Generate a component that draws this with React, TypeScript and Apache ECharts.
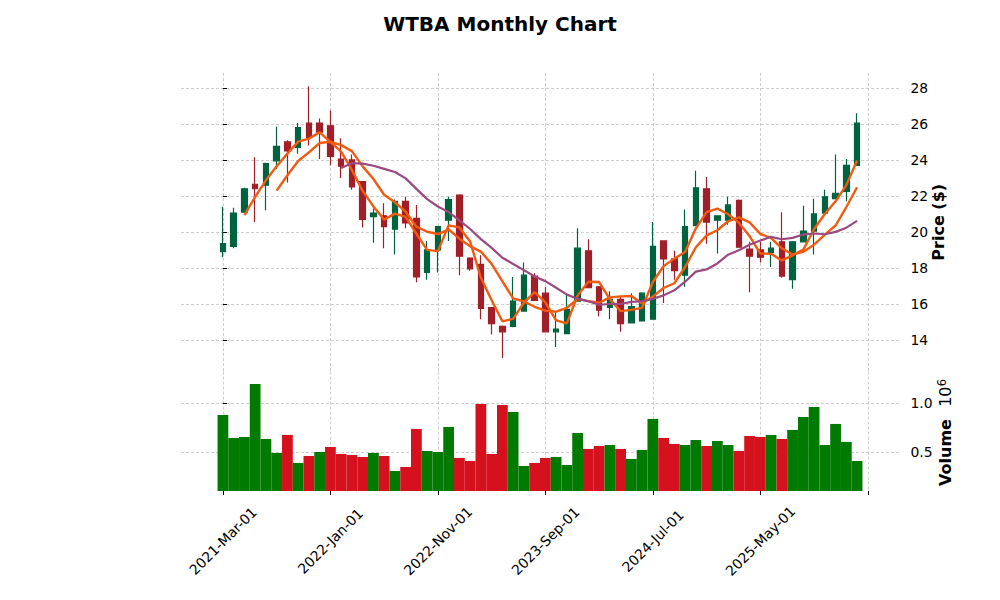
import React, { useEffect, useRef } from "react";
import * as echarts from "echarts";

// ---------- data ----------
const tickIdx = [0, 10, 20, 30, 40, 50, 60];
const tickLabels = ["2021-Mar-01", "2022-Jan-01", "2022-Nov-01", "2023-Sep-01", "2024-Jul-01", "2025-May-01"];
const priceTicks = [14, 16, 18, 20, 22, 24, 26, 28];
const volumeTicks = [500000, 1000000];
const maPeriods = [3, 6, 12];

const opens = [
  18.9, 19.2, 21.1, 22.65, 22.6, 23.95, 25.0, 24.7, 26.05, 26.05,
  25.9, 24.05, 24.0, 22.8, 20.85, 20.9, 20.15, 21.7, 20.75, 17.75,
  19.0, 20.65, 22.05, 18.55, 18.2, 15.8, 14.75, 14.75, 15.6, 17.55,
  16.6, 14.45, 14.35, 16.15, 18.95, 16.95, 15.8, 16.25, 14.95, 15.05,
  15.15, 19.5, 18.5, 17.6, 20.35, 22.4, 20.65, 20.65, 21.75, 19.05,
  19.0, 18.85, 19.45, 17.35, 19.45, 20.05, 21.05, 21.85, 22.25, 23.7,
];
const closes = [
  19.35, 21.05, 22.4, 22.4, 23.8, 24.75, 24.5, 25.8, 25.25, 25.55,
  24.2, 23.65, 22.5, 20.7, 21.05, 20.3, 21.7, 20.5, 17.5, 19.0,
  20.3, 21.8, 18.65, 17.95, 15.75, 14.9, 14.45, 16.15, 17.6, 16.2,
  14.45, 14.6, 15.7, 19.1, 16.9, 15.65, 16.25, 14.9, 15.85, 16.6,
  19.2, 18.5, 17.85, 20.3, 22.45, 20.55, 20.9, 21.5, 19.15, 18.65,
  18.6, 19.1, 17.55, 19.45, 20.05, 21.0, 21.95, 22.15, 23.7, 26.05,
];
const highs = [
  21.4, 21.35, 22.45, 24.15, 23.85, 25.85, 25.1, 26.05, 28.1, 26.3,
  26.75, 25.2, 24.3, 22.8, 21.3, 21.6, 21.8, 21.95, 21.5, 19.5,
  20.3, 21.95, 22.1, 18.6, 18.7, 15.8, 14.8, 17.5, 18.3, 17.7,
  16.95, 15.55, 16.6, 20.2, 19.6, 17.0, 16.7, 16.4, 16.6, 16.65,
  20.55, 19.5, 18.95, 21.25, 23.4, 23.05, 20.9, 21.95, 21.8, 19.45,
  19.45, 19.45, 21.1, 19.5, 21.45, 21.85, 22.35, 24.3, 24.05, 26.6,
];
const lows = [
  18.6, 19.1, 21.1, 20.55, 21.2, 23.5, 22.75, 24.35, 24.8, 24.05,
  23.7, 23.0, 22.35, 20.25, 19.4, 19.1, 18.75, 20.2, 17.2, 17.35,
  17.75, 19.5, 17.6, 17.85, 15.15, 14.3, 13.0, 14.7, 15.6, 16.2,
  14.45, 13.6, 14.35, 16.15, 16.9, 15.3, 15.15, 14.45, 14.95, 15.05,
  15.15, 16.05, 17.35, 16.95, 20.35, 19.35, 18.8, 20.4, 19.15, 16.65,
  18.3, 18.05, 17.45, 16.85, 19.45, 18.75, 21.0, 21.8, 21.7, 23.7,
];
const volumes = [
  880000, 646000, 656000, 1197000, 636000, 493000, 677000, 391000, 462000, 503000,
  554000, 483000, 472000, 452000, 493000, 462000, 309000, 350000, 738000, 513000,
  503000, 758000, 442000, 411000, 993000, 483000, 983000, 911000, 360000, 391000,
  442000, 452000, 370000, 697000, 534000, 564000, 574000, 534000, 432000, 523000,
  840000, 646000, 585000, 574000, 625000, 564000, 615000, 574000, 513000, 666000,
  656000, 677000, 636000, 728000, 860000, 962000, 574000, 789000, 605000, 411000,
];

// ---------- styles ----------
const FONT = "'DejaVu Sans', sans-serif";
const UP = "#006340";
const DOWN = "#a01f29";
const VUP = "#007a00";
const VDOWN = "#d4111c";
const MA_COLORS = ["#f25a10", "#f25a10", "#9a4a80"];
const MA_WIDTHS = [2.4, 2.4, 2.2];
const GRID_LINE = { show: true, lineStyle: { type: [3, 2] as any, color: "#c2c2c2", width: 0.8 } };
const X_MIN = -3.9;
const X_MAX = 62.9;

function sma(values: number[], n: number): (number[])[] {
  const out: number[][] = [];
  for (let i = n - 1; i < values.length; i++) {
    let s = 0;
    for (let k = i - n + 1; k <= i; k++) s += values[k];
    out.push([i, s / n]);
  }
  return out;
}

export default function App() {
  const ref = useRef<HTMLDivElement>(null);
  useEffect(() => {
    if (!ref.current) return;
    const chart = echarts.init(ref.current, undefined, { renderer: "svg" });
    const candleData = opens.map((o, i) => [i, o, closes[i], lows[i], highs[i]]);
    const volData = volumes.map((v, i) => ({
      value: [i, v],
      itemStyle: {
        color: i === 0 || closes[i] >= closes[i - 1] ? VUP : VDOWN,
      },
    }));
    const maSeries = maPeriods.map((p, k) => ({
      type: "line",
      name: "MA" + p,
      xAxisIndex: 0,
      yAxisIndex: 0,
      data: sma(closes, p),
      showSymbol: false,
      symbol: "none",
      smooth: false,
      lineStyle: { color: MA_COLORS[k], width: MA_WIDTHS[k] },
      z: 5 + k,
    }));
    const labelStyle = { fontSize: 13.9, color: "#000", fontFamily: FONT };
    chart.setOption({
      animation: false,
      backgroundColor: "#fff",
      title: {
        text: "WTBA Monthly Chart",
        left: "center",
        top: 9,
        textStyle: { fontSize: 20, fontWeight: "bold", fontFamily: FONT, color: "#000" },
      },
      grid: [
        { left: 181, top: 73, width: 718, height: 298.6 },
        { left: 181, top: 371.6, width: 718, height: 119.4 },
      ],
      xAxis: [
        {
          type: "value",
          gridIndex: 0,
          min: X_MIN,
          max: X_MAX,
          axisLine: { show: false },
          axisTick: { show: false, customValues: tickIdx },
          axisLabel: { show: false, customValues: tickIdx },
          splitLine: GRID_LINE,
        },
        {
          type: "value",
          gridIndex: 1,
          min: X_MIN,
          max: X_MAX,
          axisLine: { show: false },
          axisTick: { show: true, customValues: tickIdx, length: 4, lineStyle: { color: "#000", width: 1 } },
          axisLabel: {
            ...labelStyle,
            customValues: tickIdx.slice(0, tickLabels.length),
            rotate: 45,
            align: "center",
            verticalAlign: "middle",
            margin: 50,
            formatter: (v: number) => tickLabels[tickIdx.indexOf(Math.round(v))] ?? "",
          },
          splitLine: GRID_LINE,
        },
      ],
      yAxis: [
        {
          type: "value",
          gridIndex: 0,
          position: "right",
          min: 12.24,
          max: 28.83,
          axisLine: { show: false },
          axisTick: { show: true, customValues: priceTicks, length: 4, lineStyle: { color: "#000", width: 1 } },
          axisLabel: { ...labelStyle, customValues: priceTicks, margin: 11.5 },
          splitLine: GRID_LINE,
        },
        {
          type: "value",
          gridIndex: 1,
          position: "right",
          min: 105000,
          max: 1323000,
          axisLine: { show: false },
          axisTick: { show: true, customValues: volumeTicks, length: 4, lineStyle: { color: "#000", width: 1 } },
          axisLabel: {
            ...labelStyle,
            customValues: volumeTicks,
            margin: 11.5,
            formatter: (v: number) => (v / 1e6).toFixed(1),
          },
          splitLine: GRID_LINE,
        },
      ],
      graphic: [
        {
          type: "text",
          x: 938.5,
          y: 222.3,
          rotation: Math.PI / 2,
          style: {
            text: "Price ($)",
            fontSize: 16,
            fontWeight: "bold",
            fontFamily: FONT,
            fill: "#000",
            align: "center",
            verticalAlign: "middle",
            textAlign: "center",
            textVerticalAlign: "middle",
          },
        },
        {
          type: "text",
          x: 945,
          y: 452.5,
          rotation: Math.PI / 2,
          style: {
            text: "Volume",
            fontSize: 16,
            fontWeight: "bold",
            fontFamily: FONT,
            fill: "#000",
            align: "center",
            verticalAlign: "middle",
            textAlign: "center",
            textVerticalAlign: "middle",
          },
        },
        {
          type: "text",
          x: 945.5,
          y: 396.7,
          rotation: Math.PI / 2,
          style: {
            text: "10",
            fontSize: 16,
            fontFamily: FONT,
            fill: "#000",
            align: "center",
            verticalAlign: "middle",
            textAlign: "center",
            textVerticalAlign: "middle",
          },
        },
        {
          type: "text",
          x: 941.5,
          y: 382.5,
          rotation: Math.PI / 2,
          style: {
            text: "6",
            fontSize: 11.5,
            fontFamily: FONT,
            fill: "#000",
            align: "center",
            verticalAlign: "middle",
            textAlign: "center",
            textVerticalAlign: "middle",
          },
        },
      ],
      series: [
        {
          type: "candlestick",
          name: "WTBA",
          xAxisIndex: 0,
          yAxisIndex: 0,
          data: candleData,
          encode: { x: 0, y: [1, 2, 3, 4] },
          barWidth: 6,
          itemStyle: {
            color: UP,
            color0: DOWN,
            borderColor: UP,
            borderColor0: DOWN,
            borderWidth: 1.2,
          },
          z: 3,
        },
        ...maSeries,
        {
          type: "bar",
          name: "Volume",
          xAxisIndex: 1,
          yAxisIndex: 1,
          data: volData,
          barWidth: 10.75,
          clip: true,
          z: 3,
        },
      ],
    });
    return () => chart.dispose();
  }, []);
  return (
    <div
      ref={ref}
      style={{ position: "fixed", left: 0, top: 0, width: 1000, height: 600, background: "#fff" }}
    />
  );
}
